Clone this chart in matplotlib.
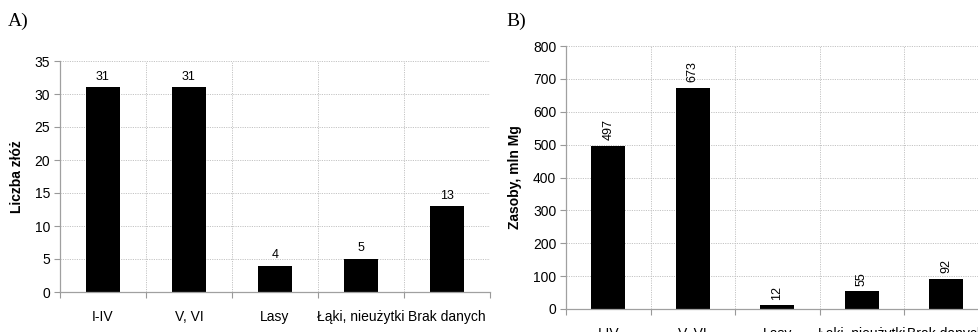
import matplotlib
matplotlib.use("Agg")
import matplotlib.pyplot as plt

plt.rcParams['font.family'] = ['Liberation Sans', 'DejaVu Sans']

categories = ['I-IV', 'V, VI', 'Lasy', 'Łąki, nieużytki', 'Brak danych']
deposit_counts = [31, 31, 4, 5, 13]
resources_mln_mg = [497, 673, 12, 55, 92]

W, H = 979, 332
fig = plt.figure(figsize=(W / 100, H / 100), dpi=100)


def panel(rect, values, ymax, ystep, ylabel, rotate_labels):
    ax = fig.add_axes(rect)
    n = len(values)
    xs = list(range(n))
    ax.bar(xs, values, width=0.4, color='black', zorder=3)
    ax.set_xlim(-0.5, n - 0.5)
    ax.set_ylim(0, ymax)

    # category boundaries carry ticks and grid, centres carry the labels
    ax.set_xticks([i - 0.5 for i in range(n + 1)])
    ax.set_xticklabels([])
    ax.set_xticks(xs, minor=True)
    ax.set_xticklabels(categories, minor=True, fontsize=10)
    ax.tick_params(axis='x', which='major', length=4, color='#999999')
    ax.tick_params(axis='x', which='minor', length=0, pad=13)
    ax.set_yticks(range(0, ymax + 1, ystep))
    ax.tick_params(axis='y', length=4, color='#999999', labelsize=10, pad=3)

    ax.grid(True, which='major', color='#c4c4c4', linestyle=(0, (1.2, 1.2)),
            linewidth=0.7, zorder=0)
    for s in ['top', 'right']:
        ax.spines[s].set_visible(False)
    for s in ['left', 'bottom']:
        ax.spines[s].set_color('#a0a0a0')
        ax.spines[s].set_linewidth(0.9)
        ax.spines[s].set_zorder(4)

    ax.set_ylabel(ylabel, fontsize=10, fontweight='bold', labelpad=8)

    off = ymax * 0.02
    for x, v in zip(xs, values):
        if rotate_labels:
            ax.text(x, v + off, str(v), rotation=90, ha='center', va='bottom',
                    fontsize=9)
        else:
            ax.text(x, v + off, str(v), ha='center', va='bottom', fontsize=9)
    return ax


ax_a = panel([60 / W, 1 - 292 / H, 430 / W, (292 - 61) / H],
             deposit_counts, 35, 5, 'Liczba złóż', False)
ax_b = panel([566 / W, 1 - 309 / H, 422.5 / W, (309 - 46) / H],
             resources_mln_mg, 800, 100, 'Zasoby, mln Mg', True)

fig.text(8 / W, 1 - 21 / H, 'A)', family='Liberation Serif', fontsize=14,
         ha='left', va='center')
fig.text(506 / W, 1 - 21 / H, 'B)', family='Liberation Serif', fontsize=14,
         ha='left', va='center')

fig.savefig('out.png', dpi=100)
